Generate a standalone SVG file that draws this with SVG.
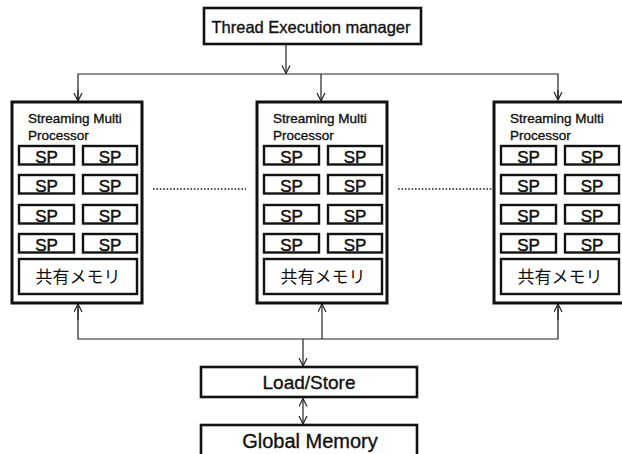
<svg xmlns="http://www.w3.org/2000/svg" width="622" height="454" viewBox="0 0 622 454">
<defs>
<style>
.box{fill:#fff;stroke:#111;stroke-width:2.6}
.sm{fill:#fff;stroke:#111;stroke-width:3}
.sp{fill:#fff;stroke:#111;stroke-width:2.4}
.ln{fill:none;stroke:#222;stroke-width:1.2}
.dot{fill:none;stroke:#222;stroke-width:1.6;stroke-dasharray:1.6 1.8}
.t{font-family:"Liberation Sans",Arial,sans-serif;fill:#111;stroke:#111;stroke-width:0.35}
.c{text-anchor:middle}
.lab{font-size:13.5px}
.spt{font-size:17px;text-anchor:middle;stroke-width:0.5}
.jp{font-family:"Liberation Sans","Noto Sans CJK JP",sans-serif;font-size:17px;text-anchor:middle;fill:#111}
</style>
<marker id="ah" markerWidth="10" markerHeight="10" refX="9" refY="4.5" orient="auto-start-reverse" markerUnits="userSpaceOnUse">
<path d="M1,0.5 L9,4.5 L1,8.5" fill="none" stroke="#222" stroke-width="1.2"/>
</marker>
<g id="smtpl">
<rect class="sm" x="0" y="0" width="130" height="201"/>
<text class="t lab" x="16" y="21">Streaming Multi</text>
<text class="t lab" x="16" y="38">Processor</text>
<rect class="sp" x="7" y="44" width="55" height="18.5"/>
<rect class="sp" x="71" y="44" width="54" height="18.5"/>
<rect class="sp" x="7" y="73" width="55" height="18.5"/>
<rect class="sp" x="71" y="73" width="54" height="18.5"/>
<rect class="sp" x="7" y="103" width="55" height="18.5"/>
<rect class="sp" x="71" y="103" width="54" height="18.5"/>
<rect class="sp" x="7" y="132" width="55" height="18.5"/>
<rect class="sp" x="71" y="132" width="54" height="18.5"/>
<text class="t spt" x="34.5" y="61">SP</text>
<text class="t spt" x="98" y="61">SP</text>
<text class="t spt" x="34.5" y="90">SP</text>
<text class="t spt" x="98" y="90">SP</text>
<text class="t spt" x="34.5" y="120">SP</text>
<text class="t spt" x="98" y="120">SP</text>
<text class="t spt" x="34.5" y="149">SP</text>
<text class="t spt" x="98" y="149">SP</text>
<rect class="sp" x="7" y="157" width="118" height="35"/>
<text class="jp" x="66" y="181">共有メモリ</text>
</g>
</defs>
<rect width="622" height="454" fill="#fff"/>

<g id="connectors">
<line class="ln" x1="286" y1="45" x2="286" y2="73.5" marker-end="url(#ah)"/>
<polyline class="ln" points="78,101 78,74 558,74 558,100"/>
<line class="ln" x1="78" y1="90" x2="78" y2="101" marker-end="url(#ah)"/>
<line class="ln" x1="321" y1="74" x2="321" y2="101" marker-end="url(#ah)"/>
<line class="ln" x1="558" y1="90" x2="558" y2="100" marker-end="url(#ah)"/>
<polyline class="ln" points="78,305 78,339 558,339 558,305"/>
<line class="ln" x1="78" y1="320" x2="78" y2="304" marker-end="url(#ah)"/>
<line class="ln" x1="322" y1="339" x2="322" y2="304" marker-end="url(#ah)"/>
<line class="ln" x1="558" y1="320" x2="558" y2="304" marker-end="url(#ah)"/>
<line class="ln" x1="303" y1="339" x2="303" y2="366" marker-end="url(#ah)"/>
<line class="ln" x1="303" y1="398.5" x2="303" y2="424" marker-start="url(#ah)" marker-end="url(#ah)"/>
<line class="dot" x1="153" y1="189" x2="246" y2="189"/>
<line class="dot" x1="398" y1="189" x2="492" y2="189"/>
</g>

<g id="thread-execution-manager">
<rect class="box" x="204" y="8" width="217" height="36"/>
<text class="t c" x="311" y="32.5" font-size="16.5">Thread Execution manager</text>
</g>

<g id="sm-left">
<use href="#smtpl" x="12" y="102"/>
</g>
<g id="sm-middle">
<use href="#smtpl" x="257" y="102"/>
</g>
<g id="sm-right">
<use href="#smtpl" x="494" y="102"/>
</g>

<g id="load-store">
<rect class="box" x="201" y="367" width="216" height="30"/>
<text class="t c" x="309" y="389" font-size="19">Load/Store</text>
</g>

<g id="global-memory">
<rect class="box" x="201" y="425" width="216" height="33"/>
<text class="t c" x="310" y="448" font-size="20">Global Memory</text>
</g>
</svg>
